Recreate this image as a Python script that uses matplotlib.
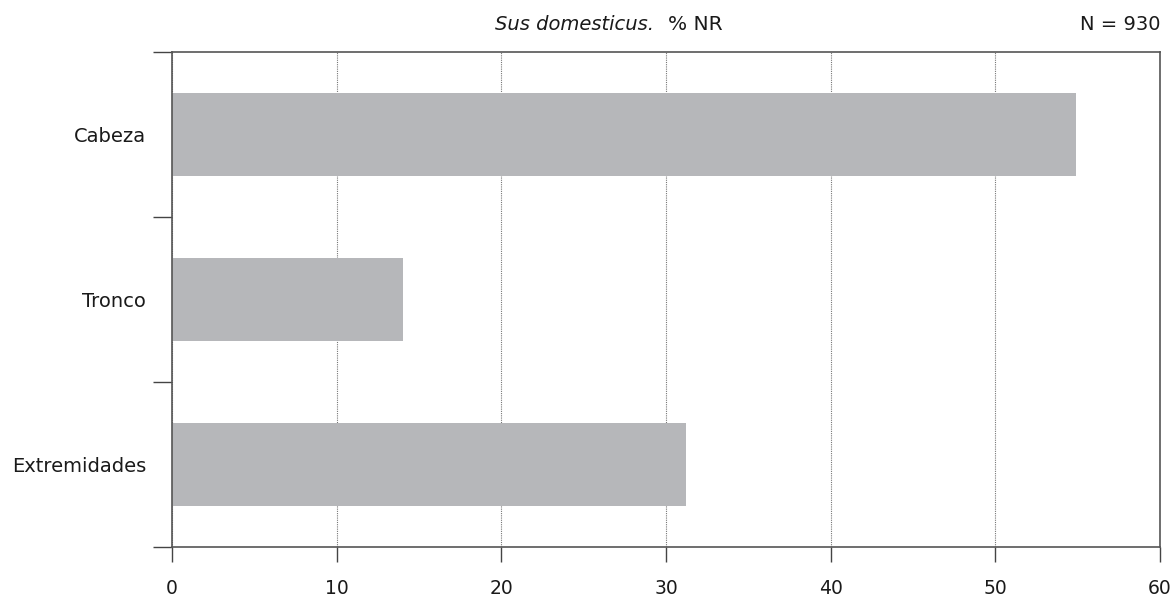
import matplotlib
matplotlib.use("Agg")
import matplotlib.pyplot as plt
import numpy as np

categories = ["Cabeza", "Tronco", "Extremidades"]
values = [54.9, 14.0, 31.2]
xticks = [0, 10, 20, 30, 40, 50, 60]
title_italic = "Sus domesticus."
title_rest = "% NR"
n_label = "N = 930"

plt.rcParams['font.family'] = ['DejaVu Sans']

fig = plt.figure(figsize=(11.73, 5.97), dpi=100)
ax = fig.add_axes([172/1173, 1-547.3/597, (1160-172)/1173, (547.3-51.7)/597])

pos = np.arange(len(categories))
ax.barh(pos, values, height=0.5, color="#b6b7ba", zorder=2)
ax.set_xlim(0, 60)
ax.set_ylim(len(categories)-0.5, -0.5)

ax.set_xticks(xticks)
ax.set_xticklabels([str(t) for t in xticks], fontsize=13.5, color="#1a1a1a")
ax.tick_params(axis='x', length=11, width=1.0, color="#444444", pad=12)

ax.set_yticks(np.arange(-0.5, len(categories), 1.0))
ax.set_yticklabels([])
ax.set_yticks(pos, minor=True)
ax.set_yticklabels(categories, minor=True, fontsize=14, color="#1a1a1a")
ax.tick_params(axis='y', which='major', length=14, width=1.0, color="#444444")
ax.tick_params(axis='y', which='minor', length=0, pad=18.5)

ax.grid(axis='x', linestyle=(0, (1, 1)), color="#777777", linewidth=0.8, zorder=1)
for s in ax.spines.values():
    s.set_color("#555555")
    s.set_linewidth(1.2)

fig.text(654/1173, 1-25/597, title_italic, style='italic', fontsize=14,
         ha='right', va='center', color="#1a1a1a")
fig.text(668/1173, 1-25/597, title_rest, fontsize=14.5,
         ha='left', va='center', color="#1a1a1a")
fig.text(1160/1173, 1-25/597, n_label, fontsize=14, ha='right', va='center', color="#1a1a1a")

fig.savefig("out.png", dpi=100)
